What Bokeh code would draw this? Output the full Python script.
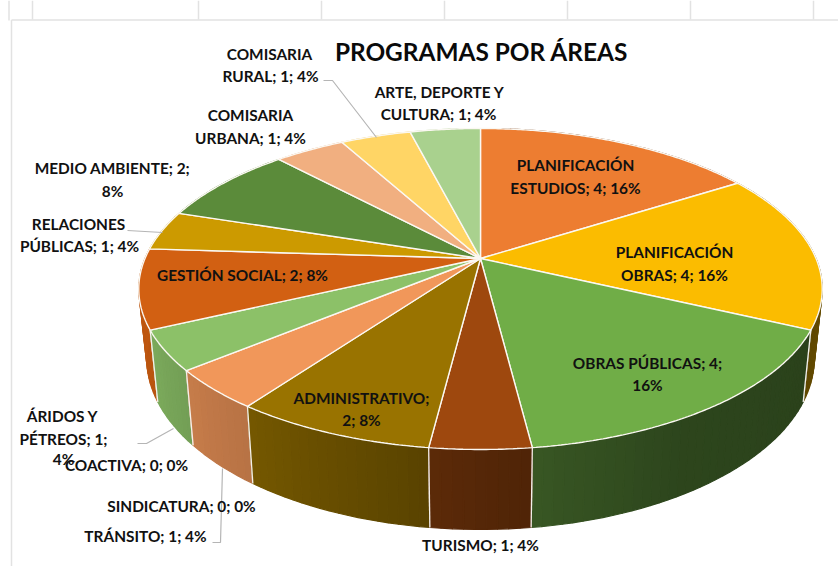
import numpy as np
from bokeh.plotting import figure
from bokeh.models import ColumnDataSource, Range1d
from bokeh.core.properties import value
from bokeh.embed import file_html
from bokeh.resources import INLINE

title = "PROGRAMAS POR ÁREAS"
categories = ["PLANIFICACIÓN ESTUDIOS", "PLANIFICACIÓN OBRAS", "OBRAS PÚBLICAS", "TURISMO",
              "ADMINISTRATIVO", "TRÁNSITO", "SINDICATURA", "COACTIVA", "ÁRIDOS Y PÉTREOS",
              "GESTIÓN SOCIAL", "RELACIONES PÚBLICAS", "MEDIO AMBIENTE", "COMISARIA URBANA",
              "COMISARIA RURAL", "ARTE, DEPORTE Y CULTURA"]
counts = [4, 4, 4, 1, 2, 1, 0, 0, 1, 2, 1, 2, 1, 1, 1]
colors = ["#ED7D31", "#FBBC00", "#70AD47", "#9E480E", "#997300", "#F1975A", "#A5A5A5", "#4472C4",
          "#8CC168", "#D26012", "#CC9A00", "#5B8B3A", "#F1AF80", "#FFD565", "#A9D18E"]

# label text, line by line, with the centre of each line on the page
labels = [
    ("COMISARIA", 269, 53), ("RURAL; 1; 4%", 270, 75),
    ("ARTE, DEPORTE Y", 439, 91), ("CULTURA; 1; 4%", 438, 113),
    ("COMISARIA", 250, 114), ("URBANA; 1; 4%", 250, 137),
    ("MEDIO AMBIENTE; 2;", 112, 167), ("8%", 112, 190),
    ("RELACIONES", 78, 223), ("PÚBLICAS; 1; 4%", 79, 245),
    ("GESTIÓN SOCIAL; 2; 8%", 242, 274),
    ("PLANIFICACIÓN", 575, 164), ("ESTUDIOS; 4; 16%", 575, 187),
    ("PLANIFICACIÓN", 674, 251), ("OBRAS; 4; 16%", 674, 274),
    ("OBRAS PÚBLICAS; 4;", 647, 362), ("16%", 647, 384),
    ("ADMINISTRATIVO;", 361, 397), ("2; 8%", 361, 419),
    ("TURISMO; 1; 4%", 480, 544),
    ("ÁRIDOS Y", 62, 415), ("PÉTREOS; 1;", 63, 438), ("4%", 63, 458),
    ("COACTIVA; 0; 0%", 126, 464),
    ("SINDICATURA; 0; 0%", 181, 505),
    ("TRÁNSITO; 1; 4%", 145, 535),
]
leaders = [
    ([323, 332, 376], [80, 80, 137]),
    ([127, 162], [230, 232]),
    ([137, 146, 173], [443, 443, 428]),
    ([212, 220, 222], [542, 542, 468]),
]

W, H = 838, 566
p = figure(width=W, height=H, x_range=Range1d(0, W), y_range=Range1d(H, 0),
           output_backend="svg", toolbar_location=None, min_border=0,
           outline_line_color=None, background_fill_color="white")
p.xaxis.visible = False
p.yaxis.visible = False
p.grid.visible = False

GRID = "#e2e2e2"
for x in [32, 198, 321, 444, 567, 690, 813]:
    p.line([x, x], [0, 19], line_color=GRID, line_width=1.5)
p.line([8.5, 8.5], [0, 20], line_color=GRID, line_width=1.5)
p.line([11, 838], [19.5, 19.5], line_color=GRID, line_width=1.5)
p.line([11, 11], [19.5, 566], line_color=GRID, line_width=1.5)

CX, CY, R, S, K = 480.0, 258.0, 335.5, 154.7, 0.19
XB, YB, DY = 0.977, 1.068, 67.0


def top(theta):
    t = np.radians(theta)
    u, v = np.sin(t), -np.cos(t)
    d = 1 - K * v
    return CX + R * u / d, CY + S * v / d


def bottom(theta):
    x, y = top(theta)
    return CX + (x - CX) * XB, CY + (y - CY) * YB + DY


def shade(hex_color, f):
    c = [int(hex_color[i:i + 2], 16) for i in (1, 3, 5)]
    return "#%02x%02x%02x" % tuple(int(round(min(255, a * f))) for a in c)


shade_a = [0, 57, 115, 150, 173, 187, 216, 230, 245, 290, 360]
shade_f = [.5, .5, .38, .40, .50, .58, .76, .82, .88, .95, .95]

counts_arr = np.array(counts, dtype=float)
ends = np.cumsum(counts_arr) / counts_arr.sum() * 360
starts = ends - counts_arr / counts_arr.sum() * 360

order = sorted([i for i in range(len(counts)) if counts[i] > 0],
               key=lambda i: -abs((starts[i] + ends[i]) / 2 - 180))

# walls
for i in order:
    a0, a1 = starts[i], ends[i]
    n = max(2, int((a1 - a0) / 1.5))
    edges = np.linspace(a0, a1, n + 1)
    xs, ys, cs = [], [], []
    for e0, e1 in zip(edges[:-1], edges[1:]):
        tx0, ty0 = top(e0)
        tx1, ty1 = top(e1)
        bx0, by0 = bottom(e0)
        bx1, by1 = bottom(e1)
        xs.append([tx0, tx1, bx1, bx0])
        ys.append([ty0, ty1, by1, by0])
        cs.append(shade(colors[i], float(np.interp((e0 + e1) / 2, shade_a, shade_f))))
    p.patches("xs", "ys", fill_color="c", line_color="c", line_width=1.2,
              source=ColumnDataSource(dict(xs=xs, ys=ys, c=cs)))
    for a in (a0, a1):
        if 115 < a < 246:
            tx, ty = top(a)
            bx, by = bottom(a)
            p.line([tx, bx], [ty, by], line_color="#f4f0ea", line_width=1.3)

# top faces
for i in range(len(counts)):
    if counts[i] == 0:
        continue
    th = np.linspace(starts[i], ends[i], max(3, int(ends[i] - starts[i]) * 2))
    x, y = top(th)
    p.patch(np.r_[CX, x], np.r_[CY, y], fill_color=colors[i], line_color="#fbf8f2", line_width=1.4)

for lx, ly in leaders:
    p.line(lx, ly, line_color="#b5b5b5", line_width=1.2)

p.text([x for _, x, _ in labels], [y for _, _, y in labels], text=[t for t, _, _ in labels],
       text_font=value("Lato"), text_font_style="bold", text_font_size="15.4px", text_color="#111111",
       text_align="center", text_baseline="middle")
p.text([481], [51], text=[title], text_font=value("Lato"), text_font_style="bold",
       text_font_size="24.4px", text_color="#0a0a0a", text_align="center", text_baseline="middle")

open("out.html", "w").write(file_html(p, INLINE))
